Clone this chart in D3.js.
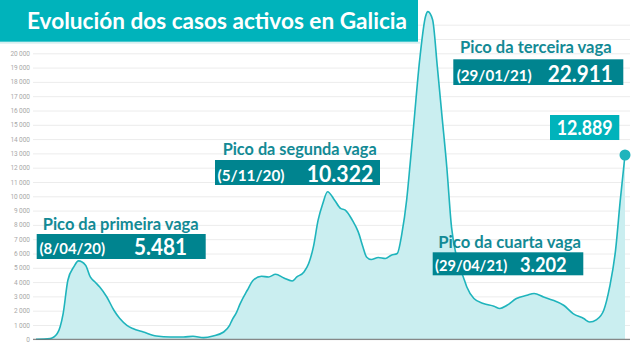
<!DOCTYPE html>
<html>
<head>
<meta charset="utf-8">
<script src="https://cdn.jsdelivr.net/npm/d3@7"></script>
<style>
  html, body { margin: 0; padding: 0; background: #fff; }
  svg { display: block; }
  text { font-family: "Lato", "Open Sans", sans-serif; }
</style>
</head>
<body>
<svg id="chart" width="640" height="360"></svg>
<script>
// ---------- DATA ----------
const titleText = "Evolución dos casos activos en Galicia";

const dates = ["2020-03-03","2020-03-15","2020-03-21","2020-03-26","2020-03-30","2020-04-04","2020-04-08","2020-04-14","2020-04-18","2020-04-22","2020-04-26","2020-05-02","2020-05-08","2020-05-13","2020-05-19","2020-05-24","2020-06-02","2020-06-13","2020-06-25","2020-07-06","2020-07-14","2020-07-23","2020-07-31","2020-08-09","2020-08-14","2020-08-16","2020-08-20","2020-08-23","2020-08-29","2020-09-03","2020-09-10","2020-09-16","2020-09-22","2020-09-29","2020-10-06","2020-10-10","2020-10-16","2020-10-20","2020-10-24","2020-10-28","2020-11-01","2020-11-05","2020-11-11","2020-11-16","2020-11-20","2020-11-26","2020-12-01","2020-12-05","2020-12-08","2020-12-12","2020-12-18","2020-12-24","2020-12-29","2021-01-03","2021-01-07","2021-01-11","2021-01-14","2021-01-17","2021-01-22","2021-01-27","2021-01-29","2021-02-02","2021-02-06","2021-02-10","2021-02-14","2021-02-18","2021-02-23","2021-02-28","2021-03-03","2021-03-09","2021-03-17","2021-03-26","2021-03-31","2021-04-06","2021-04-14","2021-04-23","2021-04-29","2021-05-07","2021-05-15","2021-05-24","2021-06-01","2021-06-10","2021-06-15","2021-06-21","2021-06-27","2021-07-02","2021-07-07","2021-07-11","2021-07-15"];

const activeCases = [0,50,400,1800,4130,5060,5481,5180,4360,4010,3660,2960,2030,1450,980,750,510,230,160,160,210,120,230,510,980,1330,1900,2500,3430,4130,4410,4360,4550,4290,4080,4360,4710,5300,6460,8330,9500,10322,9730,9150,9030,8330,7510,6460,5760,5580,5720,5650,5880,6000,7400,9730,12300,15000,19500,22570,22911,22340,19070,15570,12070,7860,5530,4360,3660,2850,2500,2310,2150,2380,2850,3080,3202,2960,2730,2380,1800,1450,1210,1380,2030,3660,6230,9730,12889];

const yTicks = [0,1000,2000,3000,4000,5000,6000,7000,8000,9000,10000,11000,12000,13000,14000,15000,16000,17000,18000,19000,20000,21000,22000];
const yLabelMax = 20000;

const peakNames = ["Pico da primeira vaga","Pico da segunda vaga","Pico da terceira vaga","Pico da cuarta vaga"];
const peakDates = ["2020-04-08","2020-11-05","2021-01-29","2021-04-29"];
const peakValues = [5481,10322,22911,3202];

// ---------- LAYOUT (not data) ----------
const W = 640, H = 360;
const plot = {x0: 36, x1: 625, y0: 339.3, gridX0: 33, gridX1: 630};
const annLayout = [
  {hx: 42.7, hy: 229.5, hw: 156, bx: 36.7, by: 234, bw: 169, bh: 25, dx: 39.5, dy: 254, dw: 65.5, vx: 134, vy: 255, vw: 53, vs: 22},
  {hx: 222.7, hy: 155, hw: 154, bx: 215, by: 160, bw: 165, bh: 25, dx: 217.5, dy: 181, dw: 67, vx: 306.7, vy: 182, vw: 66.6, vs: 22},
  {hx: 460, hy: 53.3, hw: 151.7, bx: 453.3, by: 59.3, bw: 170, bh: 25.7, dx: 456.7, dy: 81, dw: 75, vx: 547.7, vy: 82, vw: 65, vs: 22},
  {hx: 438.3, hy: 248.3, hw: 142.7, bx: 432.7, by: 252.3, bw: 150.6, bh: 23, dx: 435, dy: 271, dw: 72.3, vx: 520, vy: 271.5, vw: 46.7, vs: 20}
];
const C = {
  title: "#00b3bb", line: "#1fb4bc", area: "#caeef0", grid: "#ececec",
  axis: "#6f6f6f", tickText: "#a8a8a8", head: "#138a95", box: "#00848f"
};

// ---------- CHART ----------
const parse = d3.timeParse("%Y-%m-%d");
const data = dates.map((d, i) => ({date: parse(d), value: activeCases[i]}));

const svg = d3.select("#chart");
svg.append("rect").attr("width", W).attr("height", H).attr("fill", "#fff");

const x = d3.scaleTime()
  .domain([parse(dates[0]), parse(dates[dates.length - 1])])
  .range([plot.x0, plot.x1]);
const y = d3.scaleLinear().domain([0, 20000]).range([plot.y0, 53.3]);

const spaceLocale = d3.formatLocale({decimal: ",", thousands: "\u2009", grouping: [3], currency: ["", "€"]});
const dotLocale = d3.formatLocale({decimal: ",", thousands: ".", grouping: [3], currency: ["", "€"]});
const fmtTick = spaceLocale.format(",d");
const fmtVal = dotLocale.format(",d");
const fmtDate = d3.timeFormat("%-d/%m/%y");

// grid + axis
const yAxis = d3.axisLeft(y)
  .tickValues(yTicks)
  .tickSize(-(plot.gridX1 - plot.gridX0))
  .tickPadding(3)
  .tickFormat(d => d <= yLabelMax ? fmtTick(d) : "");
const gAxis = svg.append("g")
  .attr("transform", `translate(${plot.gridX0},0)`)
  .call(yAxis);
gAxis.select(".domain").remove();
gAxis.selectAll(".tick line").attr("stroke", C.grid).attr("stroke-width", 1);
gAxis.selectAll(".tick text")
  .attr("fill", C.tickText)
  .style("font-family", "Roboto, sans-serif")
  .style("font-size", "6.5px");

// area + line
const area = d3.area().x(d => x(d.date)).y0(y(0)).y1(d => y(d.value)).curve(d3.curveMonotoneX);
const line = d3.line().x(d => x(d.date)).y(d => y(d.value)).curve(d3.curveMonotoneX);
svg.append("path").datum(data).attr("d", area).attr("fill", C.area);
svg.append("path").datum(data).attr("d", line)
  .attr("fill", "none").attr("stroke", C.line).attr("stroke-width", 1.6)
  .attr("stroke-linejoin", "round");

// baseline
svg.append("line")
  .attr("x1", plot.gridX0).attr("x2", plot.gridX1)
  .attr("y1", y(0)).attr("y2", y(0))
  .attr("stroke", C.axis).attr("stroke-width", 1);

// end point
const last = data[data.length - 1];
svg.append("circle").attr("cx", x(last.date)).attr("cy", y(last.value))
  .attr("r", 5.5).attr("fill", C.line);

// end label
svg.append("rect").attr("x", 550).attr("y", 115).attr("width", 69.3).attr("height", 25).attr("fill", C.title);
svg.append("text").attr("x", 556.7).attr("y", 134.5)
  .attr("fill", "#fff").attr("font-weight", 700).style("font-size", "21px")
  .attr("textLength", 56).attr("lengthAdjust", "spacingAndGlyphs")
  .text(fmtVal(last.value));

// peak annotations
peakNames.forEach((name, i) => {
  const L = annLayout[i];
  const g = svg.append("g");
  g.append("text").attr("x", L.hx).attr("y", L.hy)
    .attr("fill", C.head).attr("font-weight", 700).style("font-size", "17px")
    .attr("textLength", L.hw).attr("lengthAdjust", "spacingAndGlyphs")
    .text(name);
  g.append("rect").attr("x", L.bx).attr("y", L.by).attr("width", L.bw).attr("height", L.bh)
    .attr("fill", C.box);
  g.append("text").attr("x", L.dx).attr("y", L.dy)
    .attr("fill", "#fff").attr("font-weight", 700).style("font-size", "16px")
    .attr("textLength", L.dw).attr("lengthAdjust", "spacingAndGlyphs")
    .text("(" + fmtDate(parse(peakDates[i])) + ")");
  g.append("text").attr("x", L.vx).attr("y", L.vy)
    .attr("fill", "#fff").attr("font-weight", 700).style("font-size", L.vs + "px")
    .attr("textLength", L.vw).attr("lengthAdjust", "spacingAndGlyphs")
    .text(fmtVal(peakValues[i]));
});

// title
svg.append("rect").attr("x", 0).attr("y", 41.7).attr("width", 420).attr("height", 2).attr("fill", "#d6eff0");
svg.append("rect").attr("x", 0).attr("y", 0).attr("width", 418).attr("height", 41.7).attr("fill", C.title);
svg.append("text").attr("x", 27).attr("y", 28.5)
  .attr("fill", "#fff").attr("font-weight", 700).style("font-size", "22px")
  .attr("textLength", 380).attr("lengthAdjust", "spacingAndGlyphs")
  .text(titleText);
</script>
</body>
</html>
